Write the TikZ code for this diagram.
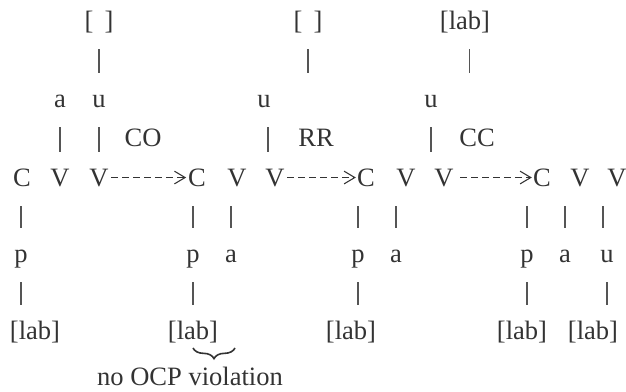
\documentclass[tikz,border=0pt]{standalone}
\usepackage{fontspec}
\setmainfont{Liberation Serif}
\usetikzlibrary{arrows.meta,decorations.pathreplacing}
\definecolor{ink}{HTML}{333333}
\definecolor{barink}{HTML}{555555}
\begin{document}
\begin{tikzpicture}[x=0.75pt,y=-0.75pt,
  every node/.style={inner sep=0pt,outer sep=0pt,anchor=base,text=ink,
    text height=13.7pt,text depth=4pt,
    font=\fontsize{19.9pt}{24pt}\selectfont},
  bar/.style={draw=barink,line width=0.9pt,shorten <=10.4pt,shorten >=12.2pt},
  dasharrow/.style={draw=ink,line width=1.35pt,dash pattern=on 5pt off 3.2pt,
    -{Straight Barb[length=8pt,width=9.5pt,line width=0.8pt]}},
  ocpbrace/.style={draw=ink,line width=1.2pt,
    decorate,decoration={brace,mirror,amplitude=8pt}}]
\useasboundingbox (0,0) rectangle (626,392);

% floating features
\node (br1) at (99,30) {[\,\ ]};
\node (br2) at (308,30) {[\,\ ]};
\node (br3) at (465,30) {[lab]};

% melodic elements
\node (a1) at (60,108) {a};
\node (u1) at (99,108) {u};
\node (u2) at (264,108) {u};
\node (u3) at (431,108) {u};

% process labels
\node (co) at (143,147) {CO};
\node (rr) at (316,147) {RR};
\node (cc) at (477,147) {CC};

% skeletal tiers
\node (C1) at (22,187) {C};
\node (V1) at (60,187) {V};
\node (V2) at (99,187) {V};
\node (C2) at (197,187) {C};
\node (V3) at (237,187) {V};
\node (V4) at (275,187) {V};
\node (C3) at (366,187) {C};
\node (V5) at (406,187) {V};
\node (V6) at (444,187) {V};
\node (C4) at (542,187) {C};
\node (V7) at (580,187) {V};
\node (V8) at (617,187) {V};

% segments
\node (p1) at (21,263) {p};
\node (p2) at (193,263) {p};
\node (a2) at (231,263) {a};
\node (p3) at (358,263) {p};
\node (a3) at (396,263) {a};
\node (p4) at (527,263) {p};
\node (a4) at (565,263) {a};
\node (u4) at (607,263) {u};

% place features
\node (lab1) at (35,340) {[lab]};
\node (lab2) at (193,340) {[lab]};
\node (lab3) at (351,340) {[lab]};
\node (lab4) at (522,340) {[lab]};
\node (lab5) at (593,340) {[lab]};

\node (ocp) at (190,386) {no OCP violation};

% association lines: features to melody
\draw[bar] (br1.south) -- (br1.south |- u1.north);
\draw[bar] (br2.south) -- (br2.south |- u2.north);
\draw[bar] ([xshift=3.5pt]br3.south) -- ([xshift=3.5pt]br3.south |- u3.north);

% melody to skeleton
\draw[bar] (a1.south) -- (a1.south |- V1.north);
\draw[bar] (u1.south) -- (u1.south |- V2.north);
\draw[bar] ([xshift=3pt]u2.south) -- ([xshift=3pt]u2.south |- V4.north);
\draw[bar] (u3.south) -- (u3.south |- V6.north);

% skeleton to segments
\draw[bar] (C1.south -| p1) -- (p1.north);
\draw[bar] (C2.south -| p2) -- (p2.north);
\draw[bar] (V3.south -| a2) -- (a2.north);
\draw[bar] (C3.south -| p3) -- (p3.north);
\draw[bar] (V5.south -| a3) -- (a3.north);
\draw[bar] (C4.south -| p4) -- (p4.north);
\draw[bar] (V7.south -| a4) -- (a4.north);
\draw[bar] ([xshift=-3pt]V8.south -| u4) -- ([xshift=-3pt]u4.north);

% segments to place features
\draw[bar] (p1.south) -- (p1.south |- lab1.north);
\draw[bar] (p2.south) -- (p2.south |- lab2.north);
\draw[bar] (p3.south) -- (p3.south |- lab3.north);
\draw[bar] (p4.south) -- (p4.south |- lab4.north);
\draw[bar] (u4.south) -- (u4.south |- lab5.north);

% derivation steps
\draw[dasharrow] ([xshift=2pt,yshift=7.1pt]V2.base east) -- ([xshift=-1.5pt,yshift=7.1pt]C2.base west);
\draw[dasharrow] ([xshift=2pt,yshift=7.1pt]V4.base east) -- ([xshift=-1pt,yshift=7.1pt]C3.base west);
\draw[dasharrow] ([xshift=5pt,yshift=7.1pt]V6.base east) -- ([xshift=-1pt,yshift=7.1pt]C4.base west);

% brace over the adjacent place features
\draw[ocpbrace] ([yshift=-2pt]lab2.south) -- ([xshift=3pt,yshift=-2pt]lab2.south -| a2);
\end{tikzpicture}
\end{document}
